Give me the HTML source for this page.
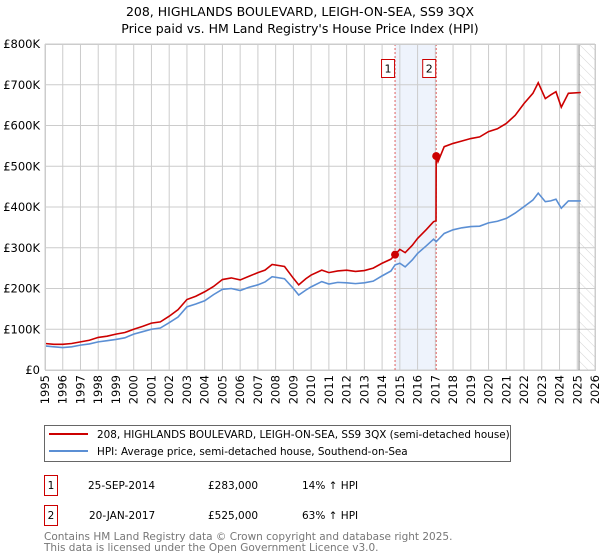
<!DOCTYPE html>
<html><head><meta charset="utf-8"><style>
body{margin:0;background:#fff;width:600px;height:560px;overflow:hidden;font-family:"DejaVu Sans","Liberation Sans",sans-serif}
svg{position:absolute;left:0;top:0}
</style></head><body>
<svg id="c" width="600" height="560" xmlns="http://www.w3.org/2000/svg" font-family="DejaVu Sans, Liberation Sans, sans-serif">
<defs><pattern id="hatch" width="7" height="7" patternUnits="userSpaceOnUse" patternTransform="rotate(-45)"><line x1="0" y1="0" x2="0" y2="7" stroke="#d4d4d4" stroke-width="1"/></pattern></defs>
<text x="300" y="16" text-anchor="middle" font-size="12.5" fill="#000">208, HIGHLANDS BOULEVARD, LEIGH-ON-SEA, SS9 3QX</text>
<text x="300" y="33" text-anchor="middle" font-size="12.5" fill="#000">Price paid vs. HM Land Registry's House Price Index (HPI)</text>
<g id="grid"></g><g id="marks"></g><g id="axes"></g>
<rect x="44.5" y="425.5" width="466" height="36" fill="#fff" stroke="#666"/>
<line x1="49" y1="434" x2="88" y2="434" stroke="#cc0000" stroke-width="2"/>
<text x="97" y="438" font-size="10.4">208, HIGHLANDS BOULEVARD, LEIGH-ON-SEA, SS9 3QX (semi-detached house)</text>
<line x1="49" y1="451" x2="88" y2="451" stroke="#5b8fd4" stroke-width="2"/>
<text x="97" y="455" font-size="10.4">HPI: Average price, semi-detached house, Southend-on-Sea</text>
<g>
<rect x="44.5" y="475.5" width="13" height="20" fill="#fff" stroke="#cc0000"/>
<text x="51" y="489" text-anchor="middle" font-size="10.5">1</text>
<text x="88" y="489" font-size="10.5">25-SEP-2014</text>
<text x="208" y="489" font-size="10.5">£283,000</text>
<text x="302" y="489" font-size="10.5">14% ↑ HPI</text></g>
<g>
<rect x="44.5" y="505.5" width="13" height="20" fill="#fff" stroke="#cc0000"/>
<text x="51" y="519" text-anchor="middle" font-size="10.5">2</text>
<text x="89" y="519" font-size="10.5">20-JAN-2017</text>
<text x="208" y="519" font-size="10.5">£525,000</text>
<text x="302" y="519" font-size="10.5">63% ↑ HPI</text></g>
<text x="44" y="540" font-size="10.5" fill="#777">Contains HM Land Registry data © Crown copyright and database right 2025.</text>
<text x="44" y="551" font-size="10.5" fill="#777">This data is licensed under the Open Government Licence v3.0.</text>
</svg>
<script>
const hpiYears=[1995,1995.5,1996,1996.5,1997,1997.5,1998,1998.5,1999,1999.5,2000,2000.5,2001,2001.5,2002,2002.5,2003,2003.5,2004,2004.5,2005,2005.5,2006,2006.5,2007,2007.4,2007.8,2008.5,2009,2009.3,2009.7,2010,2010.6,2011,2011.5,2012,2012.5,2013,2013.5,2014,2014.5,2014.73,2015,2015.3,2015.7,2016,2016.5,2016.9,2017.05,2017.5,2018,2018.5,2019,2019.5,2020,2020.5,2021,2021.5,2022,2022.5,2022.8,2023.2,2023.5,2023.8,2024.1,2024.5,2025.2];
const hpiValues=[59,57,55,57,61,64,69,72,75,79,88,94,100,103,116,130,155,162,170,185,198,200,195,203,209,216,229,224,200,184,196,204,217,211,215,214,212,214,218,231,243,258,262,253,270,286,305,321,315,335,344,349,352,353,361,365,372,385,401,417,434,413,415,419,397,415,415];
const saleYears=[1995,1995.5,1996,1996.5,1997,1997.5,1998,1998.5,1999,1999.5,2000,2000.5,2001,2001.5,2002,2002.5,2003,2003.5,2004,2004.5,2005,2005.5,2006,2006.5,2007,2007.4,2007.8,2008.5,2009,2009.3,2009.7,2010,2010.6,2011,2011.5,2012,2012.5,2013,2013.5,2014,2014.5,2014.73,2015,2015.3,2015.7,2016,2016.5,2016.9,2017.04,2017.05,2017.15,2017.5,2018,2018.5,2019,2019.5,2020,2020.5,2021,2021.5,2022,2022.5,2022.8,2023.2,2023.5,2023.8,2024.1,2024.5,2025.2];
const saleValues=[65,63,63,65,69,73,80,83,88,92,100,107,115,118,132,148,173,181,192,205,222,226,221,230,239,245,259,254,225,209,224,233,245,239,243,245,242,244,250,262,272,283,296,288,306,323,345,364,366,525,511,548,556,562,568,572,585,592,605,625,654,679,705,666,675,683,645,679,681];
const yTicks=[0,100,200,300,400,500,600,700,800];
const yTickLabels=["£0","£100K","£200K","£300K","£400K","£500K","£600K","£700K","£800K"];
const xTicks=[1995,1996,1997,1998,1999,2000,2001,2002,2003,2004,2005,2006,2007,2008,2009,2010,2011,2012,2013,2014,2015,2016,2017,2018,2019,2020,2021,2022,2023,2024,2025,2026];
const sales=[[2014.73,283,"1"],[2017.05,525,"2"]];
const X0=45,X1=595,Y0=370,Y1=44;
const xs=y=>X0+(y-1995)/31*(X1-X0);
const ys=v=>Y0-v/800*(Y0-Y1);
const NS="http://www.w3.org/2000/svg";
function mk(tag,attrs,parent){const e=document.createElementNS(NS,tag);for(const k in attrs)e.setAttribute(k,attrs[k]);parent.appendChild(e);return e;}
const grid=document.getElementById('grid'),marks=document.getElementById('marks'),axes=document.getElementById('axes');
let sh=mk('rect',{x:xs(sales[0][0]),y:Y1,width:xs(sales[1][0])-xs(sales[0][0]),height:Y0-Y1,fill:'#eef3fc'},grid);


let ht=mk('rect',{x:xs(2025.1),y:Y1,width:X1-xs(2025.1),height:Y0-Y1,fill:'url(#hatch)'},grid);


yTicks.forEach((t,i)=>{
 let l=mk('line',{x1:X0,x2:X1,y1:ys(t),y2:ys(t),stroke:'#ccc'},grid);
 
 
 let tx=mk('text',{x:X0-5,y:ys(t)+4,'text-anchor':'end','font-size':'11.5'},axes);
 tx.textContent=yTickLabels[i];
 
 
});
xTicks.forEach(t=>{
 let l=mk('line',{x1:xs(t),x2:xs(t),y1:Y1,y2:Y0,stroke:'#ccc'},grid);
 
 
 let tx=mk('text',{x:0,y:0,'text-anchor':'end','font-size':'11.5',transform:`translate(${xs(t)+4},${Y0+5}) rotate(-90)`},axes);
 tx.textContent=t;
 
 
});
let vl=mk('line',{x1:xs(2025.1),x2:xs(2025.1),y1:Y1,y2:Y0,stroke:'#888'},grid);


sales.forEach(s=>{
 let l=mk('line',{x1:xs(s[0]),x2:xs(s[0]),y1:Y1,y2:Y0,stroke:'#e06060','stroke-dasharray':'2,2'},grid);
 
 
 let b=mk('rect',{x:xs(s[0])-13.5,y:59.5,width:13,height:18,fill:'#fff',stroke:'#cc0000'},axes);
 
 
 let t=mk('text',{x:xs(s[0])-7,y:72.5,'text-anchor':'middle','font-size':'11'},axes);
 t.textContent=s[2];
 
 
});
let hp=mk('polyline',{points:hpiYears.map((y,i)=>xs(y)+','+ys(hpiValues[i])).join(' '),fill:'none',stroke:'#5b8fd4','stroke-width':1.6},marks);


let pr=mk('polyline',{points:saleYears.map((y,i)=>xs(y)+','+ys(saleValues[i])).join(' '),fill:'none',stroke:'#cc0000','stroke-width':1.6},marks);


sales.forEach(s=>{
 let c=mk('circle',{cx:xs(s[0]),cy:ys(s[1]),r:4,fill:'#cc0000'},marks);
 
 
});
let fr=mk('rect',{x:X0+.5,y:Y1+.5,width:X1-X0,height:Y0-Y1,fill:'none',stroke:'#ccc'},axes);


</script>
</body></html>
